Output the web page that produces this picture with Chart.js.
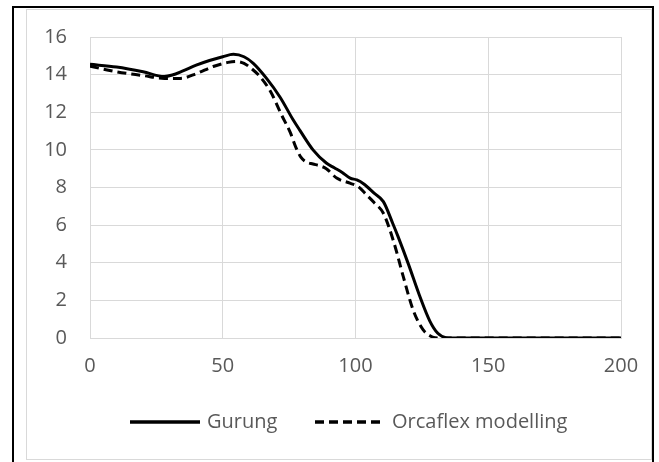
<!DOCTYPE html>
<html>
<head>
<meta charset="utf-8">
<script src="https://cdn.jsdelivr.net/npm/chart.js@4/dist/chart.umd.min.js"></script>
<style>
  html, body { margin: 0; padding: 0; background: #fff; }
  #wrap { width: 659px; height: 462px; position: relative; }
</style>
</head>
<body>
<div id="wrap"><canvas id="profileChart"></canvas></div>
<script>
// series data
const seriesNames = ['Gurung', 'Orcaflex modelling'];

const gurungX = [0, 10, 20, 28, 31, 35, 40, 45, 50, 54, 58, 61.5, 66.5, 71.6, 76.5, 79, 84, 89, 92, 95, 98, 100.5, 103, 107, 110.5, 114, 116, 120, 124, 128, 131, 134, 136, 200];
const gurungY = [14.55, 14.4, 14.15, 13.9, 13.98, 14.2, 14.5, 14.75, 14.95, 15.08, 14.95, 14.6, 13.8, 12.8, 11.6, 11.05, 10.0, 9.3, 9.05, 8.8, 8.5, 8.4, 8.2, 7.7, 7.25, 6.1, 5.4, 3.9, 2.3, 0.9, 0.25, 0.02, 0, 0];

const orcaX = [0, 10, 20, 28, 34, 40, 46.4, 52, 55, 58, 61, 64, 68, 72, 75.5, 77.5, 79.5, 81.5, 84, 86.6, 89, 92.9, 97.9, 101, 104.2, 107, 110.5, 114.2, 118, 121.7, 125.5, 129, 131, 200];
const orcaY = [14.45, 14.15, 13.95, 13.8, 13.8, 14.05, 14.43, 14.65, 14.7, 14.6, 14.3, 13.9, 13.1, 11.9, 10.9, 10.15, 9.6, 9.35, 9.25, 9.15, 9.0, 8.5, 8.23, 8.05, 7.6, 7.2, 6.63, 5.2, 3.26, 1.49, 0.43, 0.05, 0, 0];

const xTicks = [0, 50, 100, 150, 200];
const yTicks = [0, 2, 4, 6, 8, 10, 12, 14, 16];

const toPoints = (xs, ys) => xs.map((x, i) => ({ x: x, y: ys[i] }));

const FONT = '"Open Sans", "Liberation Sans", sans-serif';
const TEXT_COLOR = '#595959';
const GRID_COLOR = '#d9d9d9';

// frame around the figure + hand drawn legend below the plot
const framePlugin = {
  id: 'frame',
  beforeDraw(chart) {
    const c = chart.ctx;
    c.save();
    c.fillStyle = '#fff';
    c.fillRect(0, 0, chart.width, chart.height);
    c.strokeStyle = GRID_COLOR;
    c.lineWidth = 1;
    c.strokeRect(26.5, 9.5, 625, 450);
    c.fillStyle = '#000';
    c.fillRect(12, 6, 2, 456);
    c.fillRect(12, 6, 642, 2);
    c.fillRect(652, 6, 2, 456);
    c.restore();
  },
  afterDraw(chart) {
    const c = chart.ctx;
    const items = [
      { x0: 130, x1: 200, tx: 207 },
      { x0: 315, x1: 384, tx: 392 }
    ];
    const y = 422;
    c.save();
    chart.data.datasets.forEach((ds, i) => {
      const it = items[i];
      c.strokeStyle = ds.borderColor;
      c.lineWidth = 3.5;
      c.setLineDash(ds.borderDash || []);
      c.beginPath();
      c.moveTo(it.x0, y);
      c.lineTo(it.x1, y);
      c.stroke();
      c.setLineDash([]);
      c.fillStyle = TEXT_COLOR;
      c.font = '20px ' + FONT;
      c.textBaseline = 'middle';
      c.textAlign = 'left';
      c.fillText(ds.label, it.tx, y);
    });
    c.restore();
  }
};

new Chart(document.getElementById('profileChart'), {
  type: 'line',
  data: {
    datasets: [{
      label: seriesNames[0],
      data: toPoints(gurungX, gurungY),
      borderColor: '#000',
      borderWidth: 3,
      pointRadius: 0,
      cubicInterpolationMode: 'monotone',
      fill: false
    }, {
      label: seriesNames[1],
      data: toPoints(orcaX, orcaY),
      borderColor: '#000',
      borderWidth: 3,
      borderDash: [9, 5],
      pointRadius: 0,
      cubicInterpolationMode: 'monotone',
      fill: false
    }]
  },
  options: {
    responsive: true,
    maintainAspectRatio: false,
    animation: false,
    layout: { padding: { left: 0, top: 37, right: 38, bottom: 0 } },
    plugins: {
      legend: { display: false },
      tooltip: { enabled: false }
    },
    scales: {
      x: {
        type: 'linear',
        min: 0,
        max: 200,
        afterBuildTicks: (s) => { s.ticks = xTicks.map(v => ({ value: v })); },
        afterFit: (s) => { s.height = 124; },
        grid: { color: GRID_COLOR, lineWidth: 1, drawTicks: false },
        border: { display: true, color: GRID_COLOR, width: 1 },
        ticks: { color: TEXT_COLOR, padding: 16, maxRotation: 0, font: { family: FONT, size: 20 } }
      },
      y: {
        min: 0,
        max: 16,
        afterBuildTicks: (s) => { s.ticks = yTicks.map(v => ({ value: v })); },
        afterFit: (s) => { s.width = 90; },
        grid: { color: GRID_COLOR, lineWidth: 1, drawTicks: false },
        border: { display: true, color: GRID_COLOR, width: 1 },
        ticks: { color: TEXT_COLOR, padding: 23, font: { family: FONT, size: 20 } }
      }
    }
  },
  plugins: [framePlugin]
});
</script>
</body>
</html>
